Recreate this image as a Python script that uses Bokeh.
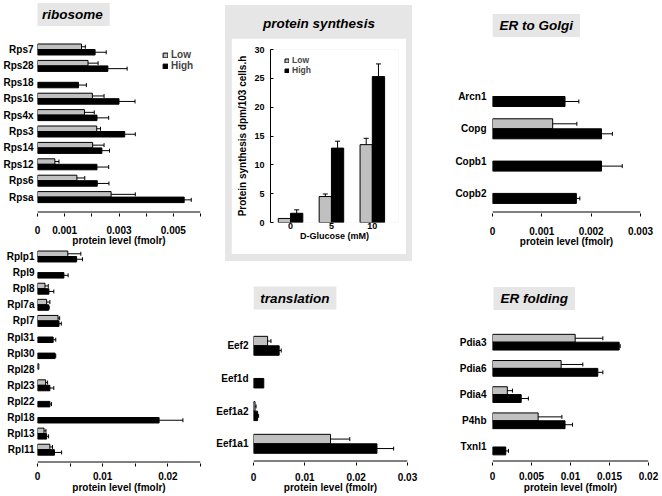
import numpy as np
from bokeh.plotting import figure
from bokeh.models import (ColumnDataSource, Range1d, FixedTicker, PrintfTickFormatter,
                          Whisker, TeeHead, Label, Legend, LegendItem, Spacer, Span)
from bokeh.layouts import row, column
from bokeh.embed import file_html
from bokeh.resources import INLINE

# ---------------- data ----------------
ribo_names = ["Rps7", "Rps28", "Rps18", "Rps16", "Rps4x", "Rps3", "Rps14", "Rps12", "Rps6", "Rpsa"]
ribo_low = [0.00162, 0.00186, None, 0.00202, 0.00173, 0.00218, 0.00203, 0.00064, 0.00145, 0.00271]
ribo_low_err = [0.00014, 0.00037, None, 0.00043, 0.00036, 0.00014, 0.00042, 0.00015, 0.00029, 0.00089]
ribo_high = [0.00212, 0.00259, 0.00151, 0.00300, 0.00219, 0.00321, 0.00237, 0.00219, 0.00220, 0.00540]
ribo_high_err = [0.00041, 0.00071, 0.00029, 0.00059, 0.00043, 0.00039, 0.00028, 0.00043, 0.00043, 0.00026]
ribo_ticks = [0, 0.001, 0.003, 0.005]
ribo_minor = [0.002, 0.004, 0.006]

rpl_names = ["Rplp1", "Rpl9", "Rpl8", "Rpl7a", "Rpl7", "Rpl31", "Rpl30", "Rpl28", "Rpl23",
             "Rpl22", "Rpl18", "Rpl13", "Rpl11"]
rpl_low = [0.00465, None, 0.00115, 0.0014, 0.00315, None, None, 0.0002, 0.00125, None, None, 0.0010, 0.0019]
rpl_low_err = [0.0020, None, 0.0005, 0.0005, 0.00025, None, None, None, 0.0003, None, None, 0.0003, 0.0004]
rpl_high = [0.0060, 0.00405, 0.00175, 0.0017, 0.0033, 0.0024, 0.0027, None, 0.0019, 0.0019, 0.01865, 0.0014, 0.0026]
rpl_high_err = [0.0009, 0.00065, 0.00075, 0.0001, 0.00035, 0.0004, 0.0001, None, 0.0006, 0.00025, 0.00365, 0.0003, 0.0011]
rpl_ticks = [0, 0.01, 0.02]
rpl_minor = [0.005, 0.015, 0.025]

golgi_names = ["Arcn1", "Copg", "Copb1", "Copb2"]
golgi_low = [None, 0.00122, None, None]
golgi_low_err = [None, 0.00049, None, None]
golgi_high = [0.00147, 0.00221, 0.00221, 0.00170]
golgi_high_err = [0.00028, 0.00022, 0.00042, 0.00007]
golgi_ticks = [0, 0.001, 0.002, 0.003]

trans_names = ["Eef2", "Eef1d", "Eef1a2", "Eef1a1"]
trans_low = [0.00275, None, 0.0003, 0.0150]
trans_low_err = [0.00065, None, 0.0002, 0.00376]
trans_high = [0.0050, 0.0020, 0.0008, 0.02405]
trans_high_err = [0.0004, None, 0.0002, 0.00325]
trans_ticks = [0, 0.01, 0.02, 0.03]

erf_names = ["Pdia3", "Pdia6", "Pdia4", "P4hb", "Txnl1"]
erf_low = [0.0106, 0.0088, 0.0019, 0.00585, None]
erf_low_err = [0.00355, 0.00278, 0.00066, 0.00305, None]
erf_high = [0.01624, 0.0135, 0.00368, 0.0093, 0.0017]
erf_high_err = [0.00013, 0.00065, 0.00092, 0.00096, 0.00035]
erf_ticks = [0, 0.005, 0.01, 0.015, 0.02]

glucose = [0, 5, 10]
syn_low = [0.7, 4.5, 13.5]
syn_low_err = [0.0, 0.45, 1.1]
syn_high = [1.6, 12.9, 25.3]
syn_high_err = [0.6, 1.2, 2.2]
syn_yticks = [0, 5, 10, 15, 20, 25, 30]

# ---------------- style ----------------
FONT = "Liberation Sans"
BAR_GRAY = "#c0c0c0"
PANEL_GRAY = "#e6e6e6"
AX = "#000000"


def arr(x):
    return np.array([np.nan if v is None else v for v in x], dtype=float)


def base_fig(width, height, xr, yr, left, right, top, bottom):
    p = figure(width=width, height=height, output_backend="svg", toolbar_location=None,
               x_range=xr, y_range=yr, min_border_left=left, min_border_right=right,
               min_border_top=top, min_border_bottom=bottom)
    p.outline_line_color = None
    p.xgrid.visible = False
    p.ygrid.visible = False
    p.background_fill_color = "white"
    p.border_fill_color = "white"
    return p


def style_axis(ax, size="10px", lsize="10px"):
    ax.major_label_text_font = FONT
    ax.major_label_text_font_style = "bold"
    ax.major_label_text_font_size = size
    ax.major_label_text_color = "black"
    ax.axis_label_text_font = FONT
    ax.axis_label_text_font_style = "bold"
    ax.axis_label_text_font_size = lsize
    ax.axis_label_text_color = "black"


def whiskers(p, base, vals, errs, dim, cap):
    v = arr(vals)
    e = arr(errs)
    ok = ~np.isnan(v) & ~np.isnan(e) & (np.nan_to_num(e) > 0)
    src = ColumnDataSource(dict(base=np.asarray(base, dtype=float)[ok], lower=v[ok], upper=(v + e)[ok]))
    w = Whisker(source=src, base="base", lower="lower", upper="upper", dimension=dim,
                line_color="black", line_width=1, level="overlay",
                upper_head=TeeHead(size=cap, line_color="black", line_width=1), lower_head=None)
    p.add_layout(w)


def hbar_panel(names, low, low_err, high, high_err, *, width, height, left, fw, fh,
               i_top, i_bot, x_end, ticks, minor, bar_h, title, tx, ty,
               cat_standoff, tick_standoff, label_standoff):
    # categories are placed at y = -index so the first one is at the top
    p = base_fig(width, height, Range1d(0, x_end), Range1d(-i_bot, -i_top),
                 left, width - left - fw, 0, height - fh)
    n = len(names)
    pos = -np.arange(n, dtype=float)
    src_low = ColumnDataSource(dict(y=pos + bar_h / 2, right=arr(low)))
    src_high = ColumnDataSource(dict(y=pos - bar_h / 2, right=arr(high)))
    r_low = p.hbar(y="y", left=0, right="right", height=bar_h, source=src_low,
                   fill_color=BAR_GRAY, line_color="black", line_width=1)
    r_high = p.hbar(y="y", left=0, right="right", height=bar_h, source=src_high,
                    fill_color="black", line_color="black", line_width=1)
    whiskers(p, pos + bar_h / 2, low, low_err, "width", 4)
    whiskers(p, pos - bar_h / 2, high, high_err, "width", 4)

    # axis rule drawn as a span just inside the bottom of the frame
    unit_per_px = (i_bot - i_top) / fh
    p.add_layout(Span(location=-i_bot + 1.5 * unit_per_px, dimension="width",
                      line_color=AX, line_width=1, level="overlay"))

    xa = p.xaxis[0]
    xa.ticker = FixedTicker(ticks=ticks, minor_ticks=minor)
    xa.formatter = PrintfTickFormatter(format="%g")
    xa.major_tick_in = 0
    xa.major_tick_out = 3
    xa.minor_tick_in = 0
    xa.minor_tick_out = 3
    xa.major_tick_line_color = AX
    xa.minor_tick_line_color = AX
    xa.axis_line_color = None
    xa.major_label_standoff = tick_standoff
    xa.axis_label = "protein level (fmolr)"
    xa.axis_label_standoff = label_standoff
    style_axis(xa)

    ya = p.yaxis[0]
    ya.ticker = FixedTicker(ticks=[-i for i in range(n)])
    ya.major_label_overrides = {-i: nm for i, nm in enumerate(names)}
    ya.axis_line_color = None
    ya.major_tick_line_color = None
    ya.minor_tick_line_color = None
    ya.major_tick_in = 0
    ya.major_tick_out = 0
    ya.minor_tick_out = 0
    ya.major_label_standoff = cat_standoff
    style_axis(ya)

    if title:
        p.add_layout(Label(x=tx, y=-ty, text=title, text_align="center", text_baseline="middle",
                           text_font=FONT, text_font_style="bold italic", text_font_size="13.5px",
                           text_color="black", background_fill_color=PANEL_GRAY, padding=(7, 4)))
    return p, r_low, r_high


# ---------------- left column ----------------
ribo, rl, rh = hbar_panel(ribo_names, ribo_low, ribo_low_err, ribo_high, ribo_high_err,
                          width=213, height=249, left=36, fw=164, fh=213,
                          i_top=-2.988, i_bot=10.0, x_end=0.006,
                          ticks=ribo_ticks, minor=ribo_minor, bar_h=0.335,
                          title="ribosome", tx=0.00128, ty=-2.134,
                          cat_standoff=4, tick_standoff=9, label_standoff=-2)
ribo.add_layout(Legend(items=[LegendItem(label="Low", renderers=[rl]), LegendItem(label="High", renderers=[rh])],
                       location=(125, 142), orientation="vertical", glyph_width=6, glyph_height=6,
                       label_height=10, label_standoff=3, spacing=-3, padding=0, margin=0,
                       border_line_color=None, background_fill_alpha=0,
                       label_text_font=FONT, label_text_font_style="bold", label_text_font_size="10px"))

rpl, _, _ = hbar_panel(rpl_names, rpl_low, rpl_low_err, rpl_high, rpl_high_err,
                       width=213, height=247, left=34, fw=167, fh=214,
                       i_top=-0.435, i_bot=12.857, x_end=0.025,
                       ticks=rpl_ticks, minor=rpl_minor, bar_h=0.34,
                       title="", tx=0, ty=0, cat_standoff=3, tick_standoff=5, label_standoff=-1)

left_col = column(ribo, rpl)

# ---------------- protein synthesis ----------------
syn = base_fig(175, 216, Range1d(-2.45, 13.2), Range1d(0, 30), 39, 8, 11, 32)
g = np.array(glucose, dtype=float)
bw = 1.5
s_low = ColumnDataSource(dict(x=g - bw / 2, top=syn_low))
s_high = ColumnDataSource(dict(x=g + bw / 2, top=syn_high))
sr_l = syn.vbar(x="x", top="top", bottom=0, width=bw, source=s_low,
                fill_color=BAR_GRAY, line_color="black", line_width=1)
sr_h = syn.vbar(x="x", top="top", bottom=0, width=bw, source=s_high,
                fill_color="black", line_color="black", line_width=1)
whiskers(syn, g - bw / 2, syn_low, syn_low_err, "height", 5)
whiskers(syn, g + bw / 2, syn_high, syn_high_err, "height", 5)
sx = syn.xaxis[0]
sx.ticker = FixedTicker(ticks=glucose)
sx.axis_line_color = None
sx.major_tick_line_color = None
sx.minor_tick_line_color = None
sx.major_tick_out = 0
sx.major_tick_in = 0
sx.major_label_standoff = 0
sx.axis_label = "D-Glucose (mM)"
sx.axis_label_standoff = -1
style_axis(sx, "9px", "9px")
sy = syn.yaxis[0]
sy.ticker = FixedTicker(ticks=syn_yticks)
sy.major_tick_in = 3
sy.major_tick_out = 0
sy.minor_tick_line_color = None
sy.major_tick_line_color = "black"
sy.axis_line_color = "black"
sy.major_label_standoff = 6
sy.axis_label = "Protein synthesis dpm/103 cells.h"
sy.axis_label_standoff = 3
style_axis(sy, "9px", "10px")
syn.add_layout(Legend(items=[LegendItem(label="Low", renderers=[sr_l]), LegendItem(label="High", renderers=[sr_h])],
                      location=(14, 147), orientation="vertical", glyph_width=5, glyph_height=5,
                      label_height=9, label_standoff=3, spacing=-1, padding=0, margin=0,
                      border_line_color=None, background_fill_alpha=0,
                      label_text_font=FONT, label_text_font_style="bold", label_text_font_size="8.5px"))

tfig = figure(width=187, height=33, output_backend="svg", toolbar_location=None,
              x_range=Range1d(0, 1), y_range=Range1d(0, 1), min_border=0,
              x_axis_location=None, y_axis_location=None)
tfig.outline_line_color = None
tfig.grid.visible = False
tfig.border_fill_color = PANEL_GRAY
tfig.background_fill_color = PANEL_GRAY
tfig.add_layout(Label(x=0.5, y=0.455, text="protein synthesis", text_align="center", text_baseline="middle",
                      text_font=FONT, text_font_style="bold italic", text_font_size="13.5px", text_color="black"))

GS = {"background-color": PANEL_GRAY}
graybox = column(tfig,
                 row(Spacer(width=6, height=216, styles=GS), syn, Spacer(width=6, height=216, styles=GS)),
                 Spacer(width=187, height=7, styles=GS), styles=GS)
b1 = column(Spacer(width=227, height=5),
            row(Spacer(width=12, height=256), graybox, Spacer(width=28, height=256)),
            Spacer(width=227, height=9))

# ---------------- right panels ----------------
golgi, _, _ = hbar_panel(golgi_names, golgi_low, golgi_low_err, golgi_high, golgi_high_err,
                         width=220, height=270, left=52, fw=148, fh=213,
                         i_top=-2.972, i_bot=3.622, x_end=0.003,
                         ticks=golgi_ticks, minor=[], bar_h=0.31,
                         title="ER to Golgi", tx=0.000886, ty=-2.198,
                         cat_standoff=6, tick_standoff=10, label_standoff=-2)

trans, _, _ = hbar_panel(trans_names, trans_low, trans_low_err, trans_high, trans_high_err,
                         width=227, height=226, left=40, fw=154, fh=192,
                         i_top=-2.305, i_bot=3.572, x_end=0.03,
                         ticks=trans_ticks, minor=[], bar_h=0.29,
                         title="translation", tx=0.00806, ty=-1.463,
                         cat_standoff=5, tick_standoff=7, label_standoff=-2)

erf, _, _ = hbar_panel(erf_names, erf_low, erf_low_err, erf_high, erf_high_err,
                       width=220, height=226, left=52, fw=156, fh=192,
                       i_top=-2.737, i_bot=4.592, x_end=0.02,
                       ticks=erf_ticks, minor=[], bar_h=0.3,
                       title="ER folding", tx=0.00535, ty=-1.668,
                       cat_standoff=6, tick_standoff=6, label_standoff=-1)

right_block = column(row(b1, golgi), row(trans, erf))
layout = row(left_col, right_block)

open("out.html", "w").write(file_html(layout, INLINE))
